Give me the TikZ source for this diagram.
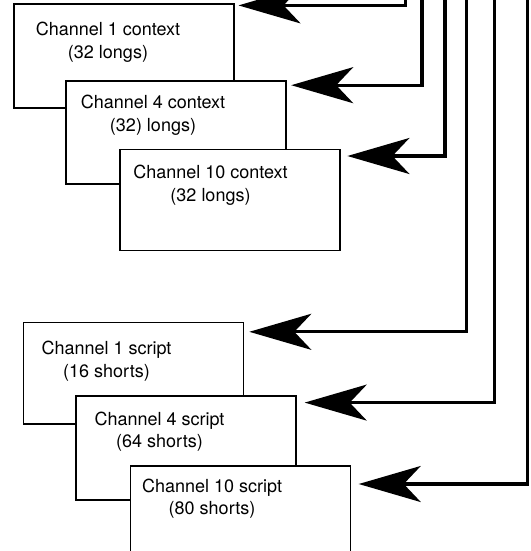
\documentclass[tikz,border=0pt]{standalone}
\usepackage{fontspec}
\setmainfont{TeX Gyre Heros}
\usetikzlibrary{arrows.meta}
\tikzset{
  membox/.style={draw, line width=1.7pt, fill=white, anchor=north west,
    minimum width=220pt, minimum height=103pt, inner sep=0pt},
  boxtext/.style={anchor=north, align=center, inner sep=0pt,
    font=\fontsize{18}{22.5}\selectfont},
  link/.style={line width=3.2pt, -{Stealth[length=62pt, width=36pt, inset=17pt]}}
}
\begin{document}
\begin{tikzpicture}[x=1pt,y=-1pt]
\useasboundingbox (0,0) rectangle (530,551);
\clip (0,0) rectangle (530,551);
% context blocks
\node[membox, minimum height=104pt] (ctx1) at (12.8,3.4) {};
\node[boxtext] (ctx1txt) at (108,22.3) {Channel 1 context\\(32 longs)};
\node[membox] (ctx4) at (65.2,79.8) {};
\node[boxtext] (ctx4txt) at (153,95) {Channel 4 context\\(32) longs)};
\node[membox, minimum height=101pt] (ctx10) at (119,148.7) {};
\node[boxtext] (ctx10txt) at (210.5,165.3) {Channel 10 context\\(32 longs)};
% script blocks
\node[membox, minimum height=101.6pt] (scr1) at (22.6,321.7) {};
\node[boxtext] (scr1txt) at (106.5,341.3) {Channel 1 script\\(16 shorts)};
\node[membox, minimum height=104pt] (scr4) at (75,395.2) {};
\node[boxtext] (scr4txt) at (159.5,411.5) {Channel 4 script\\(64 shorts)};
\node[membox, minimum height=120pt] (scr10) at (129.5,464.9) {};
\node[boxtext] (scr10txt) at (212,478.4) {Channel 10 script\\(80 shorts)};
% pointers coming down from above
\foreach \n/\sx/\dy/\sh in {ctx1/405.7/-2/4, ctx4/422/-5.4/4.3, ctx10/445/-7.3/6.7,
    scr1/466.8/-10.1/5, scr4/494.3/-7.4/8, scr10/527.7/-19.1/7.5}{
  \coordinate (src-\n) at (\sx,-5);
  \draw[link, shorten >=\sh pt] (src-\n) |- ([yshift=\dy pt]\n.north east);
}
\end{tikzpicture}
\end{document}
